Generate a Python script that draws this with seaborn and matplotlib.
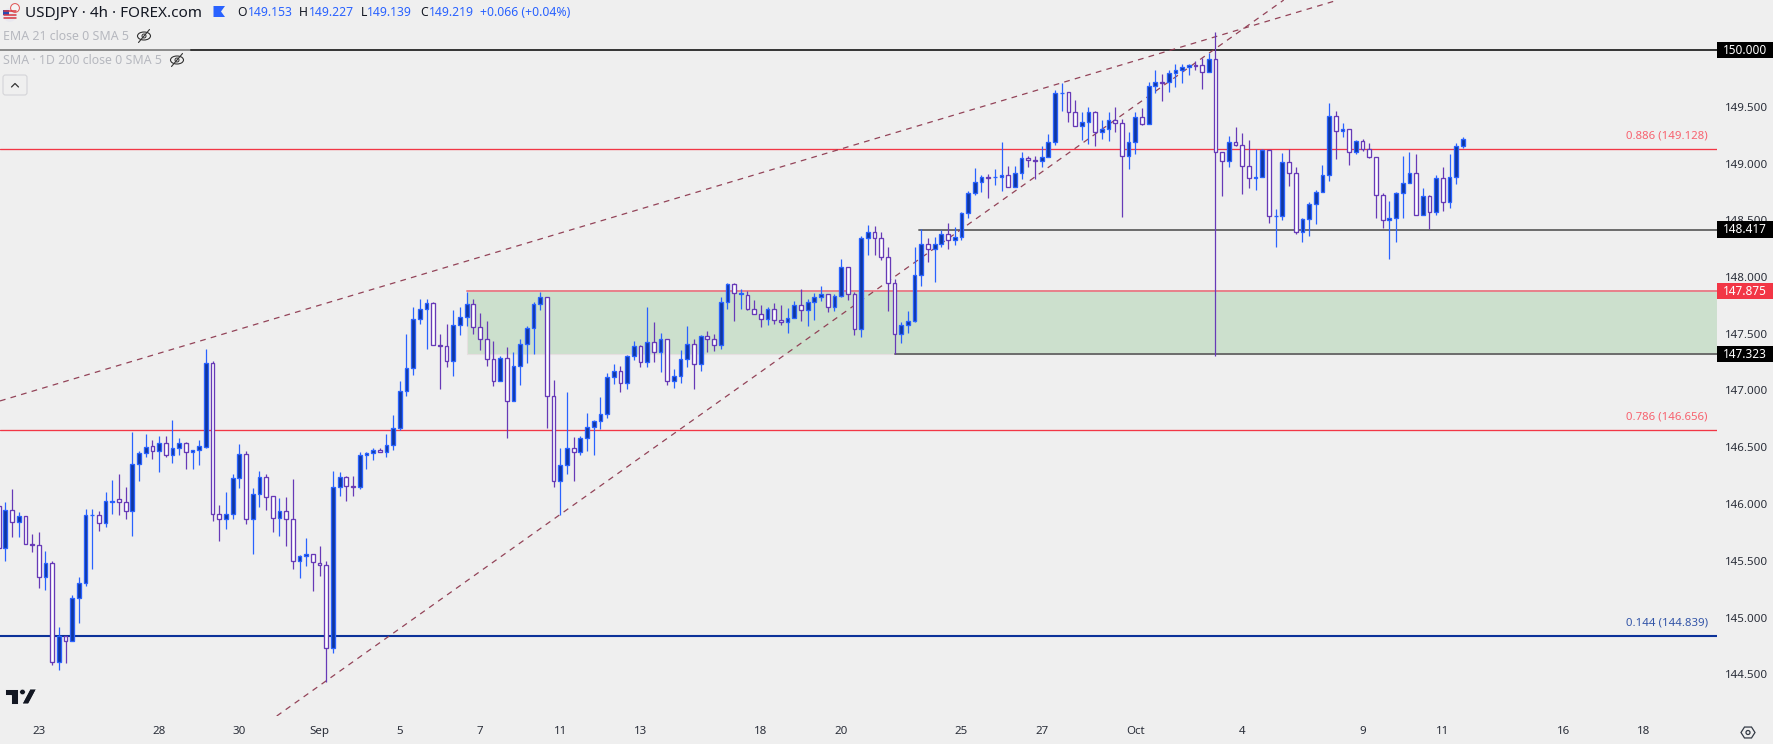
import numpy as np
import pandas as pd
import seaborn as sns
import matplotlib
matplotlib.use("Agg")
import matplotlib.pyplot as plt
from matplotlib.patches import Rectangle, Circle, Polygon, Ellipse, FancyBboxPatch
from matplotlib.transforms import blended_transform_factory

# ---------- data ----------
opens = [
145.98,145.61,145.95,145.84,145.89,145.65,145.64,145.36,145.48,144.61,
144.84,144.79,145.17,145.30,145.90,145.90,145.83,146.02,146.04,146.02,
145.94,146.35,146.45,146.51,146.47,146.54,146.43,146.49,146.54,146.46,
146.48,146.50,147.24,145.91,145.87,145.91,146.23,146.44,145.87,146.09,
146.24,146.07,145.88,145.94,145.87,145.50,145.54,145.56,145.48,145.46,
144.73,146.15,146.24,146.16,146.15,146.43,146.45,146.48,146.46,146.52,
146.67,147.00,147.20,147.63,147.72,147.77,147.40,147.39,147.26,147.58,
147.65,147.76,147.56,147.45,147.28,147.08,147.29,146.91,147.22,147.41,
147.55,147.76,147.82,146.95,146.20,146.34,146.49,146.46,146.58,146.68,
146.73,146.79,147.12,147.17,147.07,147.30,147.39,147.25,147.43,147.34,
147.45,147.08,147.13,147.28,147.41,147.23,147.48,147.45,147.40,147.78,
147.94,147.85,147.84,147.72,147.67,147.63,147.72,147.62,147.60,147.64,
147.75,147.71,147.78,147.82,147.85,147.74,147.83,148.09,147.85,147.54,
148.34,148.40,148.34,148.18,147.95,147.50,147.58,147.61,148.02,148.29,
148.25,148.29,148.38,148.33,148.35,148.56,148.74,148.84,148.88,148.88,
148.88,148.90,148.79,148.92,149.05,149.03,149.02,149.06,149.19,149.62,
149.63,149.45,149.33,149.37,149.45,149.28,149.30,149.38,149.36,149.07,
149.19,149.41,149.35,149.68,149.72,149.72,149.80,149.82,149.85,149.87,
149.87,149.81,149.92,149.10,149.02,149.19,149.16,148.98,148.87,148.88,
149.12,148.54,148.54,149.01,148.92,148.40,148.51,148.64,148.75,148.90,
149.42,149.29,149.30,149.10,149.20,149.13,149.06,148.72,148.50,148.52,
148.74,148.83,148.92,148.55,148.71,148.57,148.87,148.66,148.88,149.15]
highs = [
145.98,146.02,146.13,145.93,145.89,145.74,145.75,145.59,145.50,144.92,
144.84,145.20,145.36,145.96,145.96,145.94,146.11,146.21,146.26,146.15,
146.63,146.47,146.62,146.56,146.60,146.60,146.74,146.58,146.55,146.48,
146.56,147.37,147.26,145.99,146.11,146.26,146.53,146.47,146.14,146.29,
146.26,146.07,146.05,146.06,146.22,145.55,145.70,145.56,145.63,145.50,
146.29,146.28,146.25,146.25,146.46,146.46,146.49,146.49,146.62,146.78,
147.08,147.50,147.74,147.81,147.81,147.78,147.50,147.59,147.71,147.74,
147.87,147.81,147.68,147.61,147.44,147.30,147.38,147.34,147.45,147.57,
147.78,147.87,147.82,147.09,146.49,146.99,146.59,146.60,146.80,146.74,
146.94,147.15,147.23,147.22,147.31,147.44,147.40,147.74,147.60,147.51,
147.45,147.19,147.36,147.57,147.45,147.49,147.52,147.50,147.82,147.95,
147.95,147.89,147.88,147.80,147.75,147.74,147.77,147.75,147.73,147.79,
147.89,147.81,147.86,147.92,147.85,147.85,148.16,148.09,147.87,148.36,
148.46,148.45,148.40,148.26,147.98,147.60,147.70,148.26,148.42,148.34,
148.35,148.41,148.48,148.44,148.57,148.76,148.96,148.90,148.91,148.95,
149.19,148.98,148.98,149.10,149.07,149.07,149.15,149.26,149.65,149.71,
149.63,149.56,149.45,149.50,149.46,149.38,149.45,149.50,149.39,149.28,
149.45,149.49,149.72,149.82,149.79,149.82,149.88,149.88,149.88,149.90,
149.93,149.97,150.16,149.10,149.24,149.32,149.27,149.21,149.13,149.13,
149.12,148.60,149.09,149.13,148.97,148.52,148.66,148.77,148.99,149.53,
149.46,149.36,149.30,149.21,149.22,149.18,149.06,148.74,148.67,148.75,
149.07,149.10,149.08,148.78,148.72,148.90,148.97,149.08,149.18,149.23]
lows = [
145.61,145.50,145.71,145.71,145.65,145.58,145.26,145.24,144.58,144.54,
144.60,144.79,144.95,145.28,145.43,145.76,145.80,145.91,145.90,145.87,
145.72,146.20,146.41,146.40,146.28,146.41,146.36,146.43,146.31,146.31,
146.34,146.49,145.85,145.67,145.78,145.87,146.14,145.82,145.56,145.97,
145.95,145.75,145.72,145.63,145.43,145.35,145.45,145.23,145.37,144.43,
144.69,146.07,146.03,146.07,146.13,146.31,146.39,146.46,146.41,146.48,
146.65,146.95,147.14,147.59,147.37,147.40,147.01,147.21,147.13,147.49,
147.57,147.50,147.36,147.22,147.04,147.08,146.58,146.91,147.05,147.24,
147.32,147.71,146.67,146.15,145.90,146.26,146.20,146.43,146.47,146.43,
146.66,146.76,147.06,146.99,147.01,147.27,147.21,147.21,147.25,147.16,
147.05,147.02,147.07,147.21,147.01,147.17,147.34,147.35,147.37,147.72,
147.61,147.72,147.71,147.67,147.56,147.58,147.59,147.58,147.51,147.64,
147.61,147.57,147.62,147.79,147.69,147.70,147.82,147.80,147.49,147.47,
148.19,148.19,148.15,147.70,147.32,147.42,147.51,147.60,147.92,148.13,
147.96,148.26,148.25,148.28,148.33,148.52,148.72,148.75,148.70,148.81,
148.76,148.79,148.79,148.86,148.97,148.86,148.97,149.06,149.16,149.46,
149.37,149.33,149.21,149.17,149.15,149.22,149.20,149.28,148.53,148.95,
149.08,149.34,149.35,149.62,149.55,149.63,149.67,149.71,149.78,149.82,
149.66,149.81,147.30,148.71,148.97,149.15,148.73,148.78,148.77,148.88,
148.48,148.26,148.50,148.80,148.38,148.31,148.36,148.47,148.75,148.85,
149.04,149.23,148.99,149.08,149.11,149.05,148.52,148.43,148.16,148.31,
148.52,148.83,148.55,148.55,148.42,148.55,148.58,148.61,148.82,149.14]
closes = [
145.61,145.95,145.84,145.89,145.65,145.64,145.36,145.48,144.61,144.84,
144.79,145.17,145.30,145.90,145.90,145.83,146.03,146.03,146.02,145.94,
146.35,146.45,146.50,146.47,146.54,146.43,146.49,146.54,146.46,146.48,
146.51,147.24,145.91,145.87,145.91,146.23,146.44,145.87,146.09,146.24,
146.06,145.88,145.94,145.87,145.50,145.54,145.56,145.49,145.46,144.73,
146.15,146.24,146.16,146.15,146.43,146.45,146.48,146.46,146.52,146.67,
147.00,147.20,147.63,147.72,147.77,147.40,147.39,147.26,147.58,147.65,
147.76,147.56,147.45,147.28,147.08,147.29,146.91,147.22,147.41,147.55,
147.76,147.82,146.95,146.20,146.34,146.49,146.46,146.58,146.68,146.73,
146.79,147.12,147.17,147.07,147.30,147.39,147.25,147.43,147.34,147.45,
147.08,147.13,147.28,147.41,147.23,147.48,147.45,147.40,147.78,147.94,
147.86,147.86,147.72,147.67,147.63,147.72,147.62,147.60,147.64,147.75,
147.71,147.78,147.82,147.85,147.74,147.83,148.09,147.85,147.54,148.34,
148.40,148.34,148.18,147.95,147.50,147.58,147.61,148.02,148.29,148.25,
148.29,148.38,148.33,148.35,148.56,148.74,148.84,148.88,148.87,148.88,
148.90,148.79,148.92,149.05,149.03,149.02,149.06,149.19,149.62,149.62,
149.45,149.33,149.37,149.45,149.28,149.30,149.38,149.36,149.07,149.19,
149.41,149.35,149.68,149.72,149.71,149.80,149.82,149.85,149.87,149.86,
149.81,149.92,149.10,149.02,149.19,149.16,148.98,148.87,148.88,149.12,
148.54,148.54,149.01,148.92,148.40,148.51,148.64,148.75,148.90,149.42,
149.29,149.30,149.10,149.20,149.13,149.06,148.72,148.50,148.52,148.74,
148.83,148.92,148.55,148.71,148.57,148.87,148.66,148.88,149.15,149.22]

date_ticks = [5, 23, 35, 47, 59, 71, 83, 95, 113, 125, 143, 155, 169, 185, 203, 215, 233, 245]
date_labels = ["23","28","30","Sep","5","7","11","13","18","20","25","27","Oct","4","9","11","16","18"]
price_ticks = [144.5,145.0,145.5,146.0,146.5,147.0,147.5,148.0,148.5,149.0,149.5,150.0]

fib_levels = [149.128, 146.656, 144.839]
fib_names = ["0.886 (149.128)", "0.786 (146.656)", "0.144 (144.839)"]
zone_top, zone_bottom = 147.875, 147.323
zone_start = 69
support_level, support_start = 148.417, 136.7
low_start = 133
round_level = 150.0
tags = [(150.0, "150.000", "#000000"), (148.417, "148.417", "#000000"),
        (147.875, "147.875", "#f23645"), (147.323, "147.323", "#000000")]
wedge_upper = ([-0.8, 199.3], [146.908, 150.44])
wedge_lower = ([40.59, 191.2], [144.132, 150.44])

# ---------- style ----------
BG = "#efefef"
BULL_EDGE, BULL_FILL = "#2962ff", "#0f379f"
BEAR_EDGE, BEAR_FILL = "#673ab7", "#ffffff"
sns.set_theme(style="white", rc={"axes.facecolor": BG, "figure.facecolor": BG})
plt.rcParams["font.family"] = ["Noto Sans", "DejaVu Sans"]

W, H = 1774, 744
fig = plt.figure(figsize=(W / 100, H / 100), dpi=100)
ax = fig.add_axes([0, (H - 716) / H, 1717 / W, 716 / H])
ax.set_xlim(-5.33 / 6.686, (1717 - 5.33) / 6.686)
ax.set_ylim(150 - 666 / 113.5, 150 + 50 / 113.5)

df = pd.DataFrame({"k": np.arange(-1, len(opens) - 1), "o": opens, "h": highs, "l": lows, "c": closes})
df["up"] = df.c >= df.o
xmax = ax.get_xlim()[1]
xmin = ax.get_xlim()[0]

def level(x0, x1, y, color, lw, z, alpha=1.0):
    sns.lineplot(x=[x0, x1], y=[y, y], ax=ax, color=color, lw=lw, zorder=z,
                 alpha=alpha, estimator=None, sort=False, legend=False)

# zone
ax.add_patch(Rectangle((zone_start, zone_bottom), xmax - zone_start, zone_top - zone_bottom,
                       fc="#cce0cd", ec="#e6dfe0", lw=0.8, zorder=1))
# levels
level(xmin, xmax, fib_levels[0], "#f23645", 0.95, 2)
level(xmin, xmax, fib_levels[1], "#f23645", 0.95, 2)
level(xmin, xmax, fib_levels[2], "#0c3299", 1.5, 2)
level(xmin, 27.8, round_level, "#8a8a8a", 1.4, 2)
level(27.8, xmax, round_level, "#333333", 1.4, 2)
level(support_start, xmax, support_level, "#6b6b6b", 1.4, 2)
level(zone_start, xmax, zone_top, "#e8808a", 1.4, 2)
level(low_start, xmax, zone_bottom, "#6b6b6b", 1.4, 2)
# wedge lines
for xs, ys in (wedge_upper, wedge_lower):
    ax.plot(xs, ys, color="#8e3a50", lw=0.9, ls=(0, (4.6, 4.2)), zorder=3, alpha=0.95)

# candles
for up, g in df.groupby("up"):
    e = BULL_EDGE if up else BEAR_EDGE
    f = BULL_FILL if up else BEAR_FILL
    ax.vlines(g.k, g.l, g.h, color=e, lw=0.9, zorder=4)
    bottoms = g[["o", "c"]].min(axis=1)
    heights = (g.c - g.o).abs()
    ax.bar(g.k, heights, bottom=bottoms, width=0.56, color=f, edgecolor=e, linewidth=0.95, zorder=5)

# axes cosmetics
sns.despine(ax=ax, left=True, right=True, top=True, bottom=True)
ax.yaxis.tick_right()
ax.set_yticks(price_ticks)
ax.set_yticklabels([f"{p:.3f}" for p in price_ticks], fontsize=8.3, color="#2a2e39")
ax.set_xticks(date_ticks)
ax.set_xticklabels(date_labels, fontsize=8.3, color="#2a2e39")
ax.tick_params(axis="y", length=0, pad=6)
ax.tick_params(axis="x", length=0, pad=7)
ax.set_xlabel("")
ax.set_ylabel("")

# fib labels
label_colors = ["#f7626f", "#f7626f", "#3355a8"]
trans = blended_transform_factory(ax.transAxes, ax.transData)
for y, s, c in zip(fib_levels, fib_names, label_colors):
    ax.text(1708 / 1717, y + 7.5 / 113.5, s, color=c, fontsize=8.2, ha="right", va="bottom", zorder=6,
            transform=trans, linespacing=1)

# overlay in pixel space for the widgets
ov = fig.add_axes([0, 0, 1, 1], facecolor="none")
ov.set_xlim(0, W)
ov.set_ylim(H, 0)
ov.axis("off")

def py(p):
    return 50 + (150 - p) * 113.5

for p, s, c in tags:
    y = py(p)
    ov.add_patch(Rectangle((1717, y - 8.3), 56, 16.6, fc=c, ec="none", zorder=10))
    ov.text(1745, y + 0.2, s, color="white", fontsize=8.5, fontweight="bold", ha="center", va="center", zorder=11)

# header
ov.text(25, 13, "USDJPY · 4h · FOREX.com", fontsize=11, color="#131722", va="center", ha="left")
ov.add_patch(Polygon([(213.5, 6), (225, 6), (221, 11.5), (225, 17), (213.5, 17)], fc="#2962ff", ec="none"))
hdr = [(237, "O", "#131722"), (248, "149.153", "#2962ff"), (299, "H", "#131722"), (309, "149.227", "#2962ff"),
       (360.5, "L", "#131722"), (367, "149.139", "#2962ff"), (420, "C", "#131722"), (428.6, "149.219", "#2962ff"),
       (480, "+0.066 (+0.04%)", "#2962ff")]
for x, s, c in hdr:
    ov.text(x, 13, s, fontsize=8.8, color=c, va="center", ha="left")
ov.text(3, 36.5, "EMA 21 close 0 SMA 5", fontsize=8.9, color="#b6b8bf", va="center")
ov.text(3, 60.5, "SMA · 1D 200 close 0 SMA 5", fontsize=8.9, color="#b6b8bf", va="center")

# flag icon
ov.add_patch(Circle((9.8, 15), 6.8, fc="#e8e8ef", ec="none"))
for yy in (11, 14.5, 18):
    ov.plot([4, 16], [yy, yy], color="#d8353f", lw=1.1)
ov.add_patch(Rectangle((3.4, 9.5), 6, 5.5, fc="#2a4bb0", ec="none"))
ov.add_patch(Circle((15, 8), 4.4, fc="#f4f4f4", ec="#e05050", lw=0.7))

# eye icons
for cx, cy in ((144, 36), (177, 60)):
    ov.add_patch(Ellipse((cx, cy), 13, 8, fc="none", ec="#333333", lw=0.8))
    ov.add_patch(Circle((cx, cy), 2, fc="none", ec="#333333", lw=0.7))
    ov.plot([cx - 5.5, cx + 5.5], [cy + 6.5, cy - 6.5], color="#333333", lw=0.8)

# collapse button
ov.add_patch(FancyBboxPatch((3, 75), 24, 20, boxstyle="round,pad=0,rounding_size=2.5", fc=BG, ec="#d4d4d8", lw=0.8))
ov.plot([11.5, 15, 18.5], [87, 83.5, 87], color="#333333", lw=0.9)

# TradingView mark
logo = "#131722"
ov.add_patch(Polygon([(5, 689), (18.5, 689), (18.5, 704), (11, 704), (11, 694.5), (5, 694.5)], fc=logo, ec="white", lw=0.6))
ov.add_patch(Circle((22.5, 692), 2.8, fc=logo, ec="white", lw=0.4))
ov.add_patch(Polygon([(22, 704), (30, 689), (36.5, 689), (28.5, 704)], fc=logo, ec="white", lw=0.6))

# settings hexagon
ang = np.deg2rad(np.arange(0, 360, 60))
ov.add_patch(Polygon(np.c_[1748 + 7 * np.cos(ang), 732.5 + 6.3 * np.sin(ang)], fc="none", ec="#333a45", lw=0.9))
ov.add_patch(Circle((1748, 732.5), 2, fc="none", ec="#333a45", lw=0.9))

fig.savefig("out.png", dpi=100, facecolor=BG)
